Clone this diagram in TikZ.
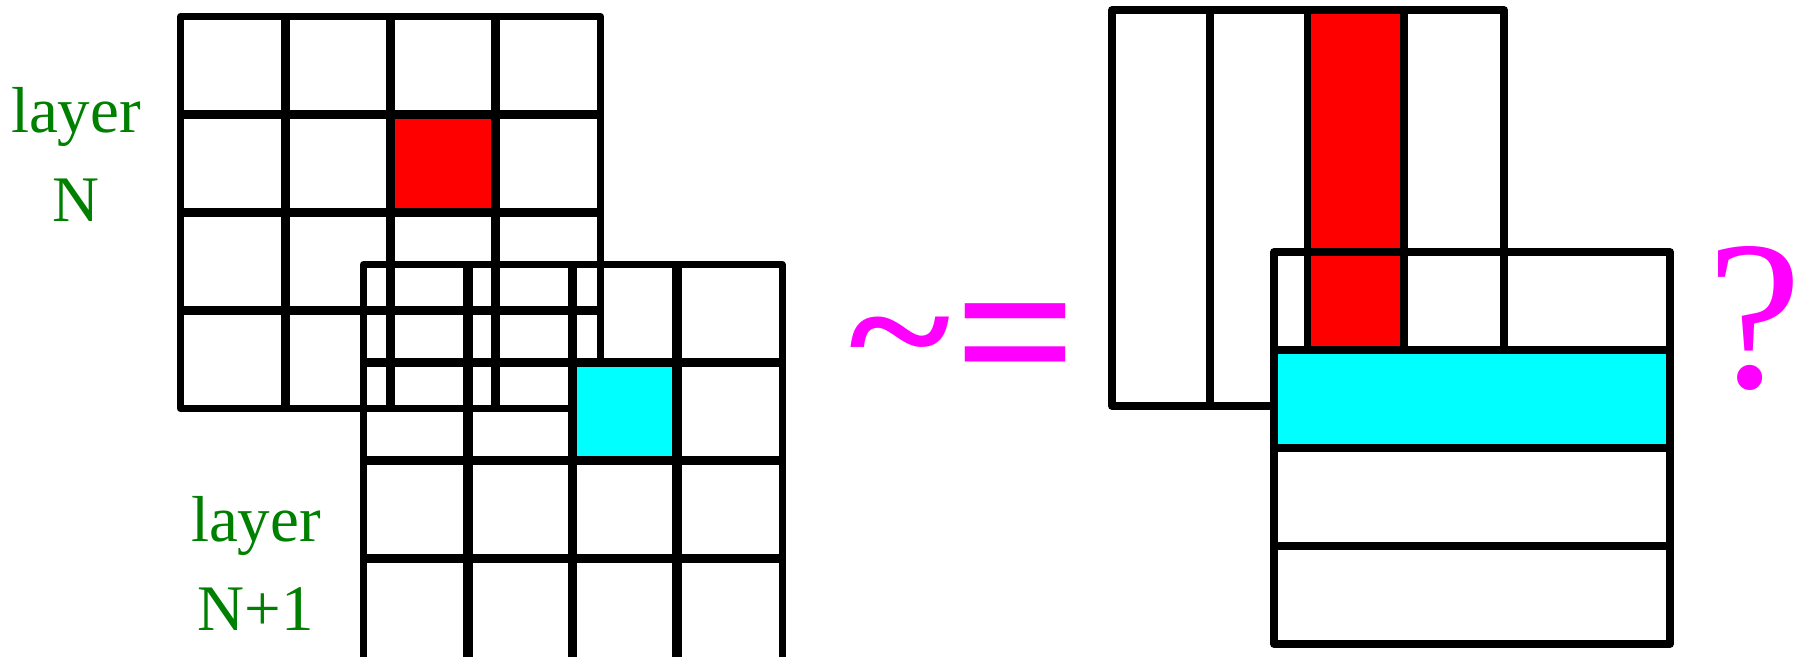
\documentclass[tikz,border=0pt]{standalone}
\usepackage{fontspec}
\usepackage{graphicx}
\newfontfamily\timesfont{Liberation Serif}
\usepackage{tikz}
\definecolor{verde}{RGB}{0,128,0}
\definecolor{rojo}{RGB}{255,0,0}
\definecolor{celeste}{RGB}{0,255,255}
\definecolor{rosa}{RGB}{255,0,255}

\begin{document}
\begin{tikzpicture}[
  x=0.5pt, y=-0.5pt,
  inner/.style={line width=4.75pt},
  outer/.style={line width=3.5pt, line join=round},
  bar/.style={line width=3.75pt, line join=round},
  lbl/.style={text=verde, align=center, inner sep=0pt,
              font=\timesfont\fontsize{32.5}{44.5}\selectfont},
  sym/.style={text=rosa, inner sep=0pt}
]
  \useasboundingbox (0,0) rectangle (1803,657);

  % layer N
  \fill[rojo] (390.5,114.5) rectangle (495.5,212.5);
  \foreach \x in {285.5,390.5,495.5}
    \draw[inner] (\x,16.5) -- (\x,408.5);
  \foreach \y in {114.5,212.5,310.5}
    \draw[inner] (180.5,\y) -- (600.5,\y);
  \draw[outer] (180.5,16.5) rectangle (600.5,408.5);

  % layer N+1
  \fill[celeste] (572.5,362.5) rectangle (677,460.5);
  \foreach \x in {468,572.5,677}
    \draw[inner] (\x,264.5) -- (\x,662);
  \foreach \y in {362.5,460.5,558.5}
    \draw[inner] (363.5,\y) -- (782,\y);
  \draw[outer] (363.5,264.5) rectangle (782,662);

  \node[lbl, anchor=base] (labN) at (76,222) {layer\\N};
  \node[lbl, anchor=base] (labN1) at (256,630) {layer\\N+1};

  \node[sym, anchor=base east, font=\timesfont\fontsize{108}{108}\selectfont\bfseries]
    (approx) at (1078,405)
    {\raisebox{9.5pt}{\scalebox{0.9}[0.75]{\char`\~}}\hspace{2pt}=};

  % columns of layer N
  \fill[rojo] (1307.5,10) rectangle (1404,406);
  \foreach \x in {1210,1307.5,1404}
    \draw[bar] (\x,10) -- (\x,406);
  \draw[bar] (1112,10) rectangle (1504,406);

  % rows of layer N+1
  \fill[celeste] (1274,350) rectangle (1670,448);
  \foreach \y in {350,448,546}
    \draw[bar] (1274,\y) -- (1670,\y);
  \draw[bar] (1274,252) rectangle (1670,644);

  \node[sym, anchor=base west, font=\timesfont\fontsize{106.5}{106.5}\selectfont]
    (quest) at (1707,387) {?};
\end{tikzpicture}
\end{document}
